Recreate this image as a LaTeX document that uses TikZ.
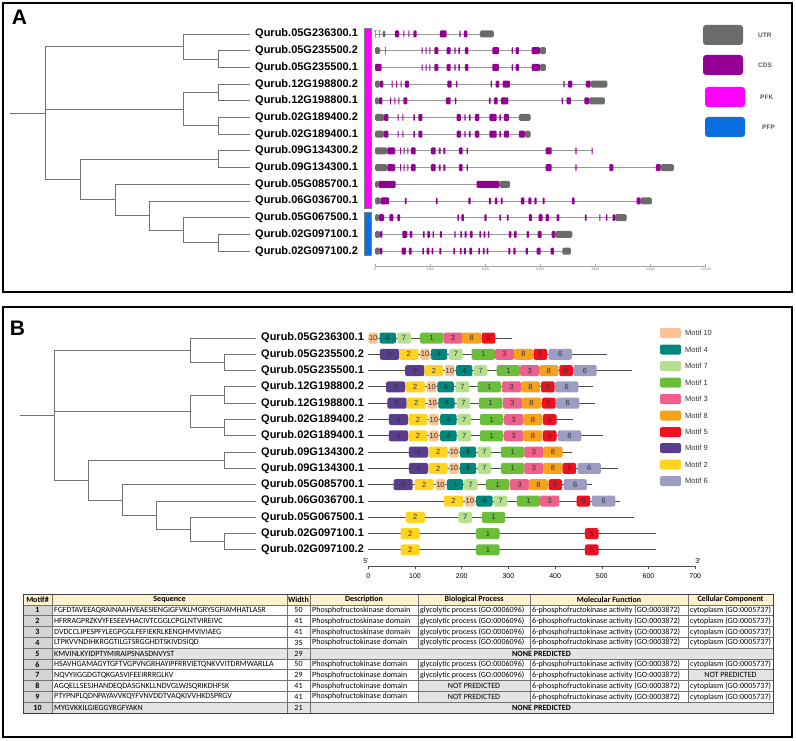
\documentclass[tikz,border=0pt]{standalone}
\usepackage{fontspec}
\setmainfont{Liberation Sans}
\newfontfamily\tabfont{Carlito}
\usepackage{tikz}
\usepackage{xcolor}

\definecolor{utrgrey}{HTML}{6B6B6B}
\definecolor{cdspurple}{HTML}{930093}
\definecolor{pfkpink}{HTML}{FF00FF}
\definecolor{pfpblue}{HTML}{0A6FE0}
\definecolor{mot1}{HTML}{6BBE3A}
\definecolor{mot2}{HTML}{FFD320}
\definecolor{mot3}{HTML}{F0608C}
\definecolor{mot4}{HTML}{00877C}
\definecolor{mot5}{HTML}{F01020}
\definecolor{mot6}{HTML}{9D9CC2}
\definecolor{mot7}{HTML}{B6DF8E}
\definecolor{mot8}{HTML}{F7A21B}
\definecolor{mot9}{HTML}{5A3E8E}
\definecolor{mot10}{HTML}{FAC393}
\definecolor{headyellow}{HTML}{FFF2CC}
\definecolor{numgrey}{HTML}{D4D4D4}
\definecolor{cellgrey}{HTML}{E4E4E4}

\tikzstyle{panel} = [draw = black, line width = 1.6pt]
\tikzstyle{panellabel} = [inner sep = 0pt, font = \fontsize{21}{21}\selectfont\bfseries]
\tikzstyle{leaf} = [anchor = west, inner xsep = 5pt, inner ysep = 0pt, font = \fontsize{11}{11}\selectfont\bfseries]
\tikzstyle{branch} = [draw = black!55, line width = 0.9pt]
\tikzstyle{intron} = [draw = black!40, line width = 0.8pt]
\tikzstyle{utr} = [fill = utrgrey, rounded corners = 1.5pt]
\tikzstyle{cds} = [fill = cdspurple, rounded corners = 1pt]
\tikzstyle{legbox} = [rounded corners = 3pt, minimum width = 40pt, minimum height = 20pt, inner sep = 0pt]
\tikzstyle{legtext} = [anchor = west, inner sep = 0pt, text = black!65, font = \fontsize{6.5}{6.5}\selectfont\bfseries]
\tikzstyle{protein} = [draw = black!70, line width = 0.9pt]
\tikzstyle{motifbox} = [rounded corners = 2pt]
\tikzstyle{motiflabel} = [inner sep = 0pt, text = black!80, font = \fontsize{7.5}{7.5}\selectfont]
\tikzstyle{legmotif} = [rounded corners = 2pt, minimum width = 21pt, minimum height = 10pt, inner sep = 0pt]
\tikzstyle{legmtext} = [anchor = west, inner sep = 0pt, text = black!80, font = \fontsize{7.5}{7.5}\selectfont]
\tikzstyle{axistext} = [inner sep = 0pt, font = \fontsize{7}{7}\selectfont]
\tikzstyle{tinytext} = [inner sep = 0pt, text = black!50, font = \fontsize{3.5}{3.5}\selectfont]
\tikzstyle{grid} = [draw = black!55, line width = 0.5pt]
\tikzstyle{tabtext} = [inner sep = 0pt, font = \tabfont\fontsize{8}{8}\selectfont]
\tikzstyle{tabbold} = [inner sep = 0pt, font = \tabfont\bfseries\fontsize{8}{8}\selectfont]

% #1 row y, #2 line start, #3 line end, #4 utr pieces, #5 cds pieces (units of 1/3 px from x = 370)
\newcommand{\genemodel}[5]{%
  \begin{scope}[shift = {(370, #1)}, x = 0.3333pt]
    \draw [intron] (#2, 0) -- (#3, 0);
    \foreach \a/\b in {#4} \fill [utr] (\a, -3.5) rectangle (\b, 3.5);
    \foreach \a/\b in {#5} \fill [cds] (\a, -3.5) rectangle (\b, 3.5);
  \end{scope}}

% #1 row tag, #2 row y, #3 protein length, #4 start/motif pairs
\newcommand{\motifrow}[4]{%
  \begin{scope}[shift = {(368.3, #2)}, x = 0.467pt]
    \draw [protein] (0, 0) -- (#3, 0);
    \foreach \s/\m in {#4} {
      \pgfmathsetmacro{\w}{{0,50,41,41,35,29,50,29,41,41,21}[\m]}
      \fill [motifbox, fill = mot\m] (\s, -5.5) rectangle ++(\w, 11);
      \node [motiflabel] (r#1m\m) at (\s + 0.5*\w, 0) {\m};
    }
  \end{scope}}

\begin{document}
\begin{tikzpicture}[x = 1pt, y = -1pt]
    \useasboundingbox (0, 0) rectangle (796, 741);

    % frames
    \draw [panel] (3, 3) rectangle (792, 292);
    \draw [panel] (3, 307) rectangle (792, 737);
    \node [panellabel] (labA) at (19.5, 17) {A};
    \node [panellabel] (labB) at (17.5, 328) {B};

    % ---------------- panel A ----------------
    \node (a1) at (250, 34) [leaf] {Qurub.05G236300.1};
    \node (a2) at (250, 50.7) [leaf] {Qurub.05G235500.2};
    \node (a3) at (250, 67.4) [leaf] {Qurub.05G235500.1};
    \node (a4) at (250, 84.1) [leaf] {Qurub.12G198800.2};
    \node (a5) at (250, 100.8) [leaf] {Qurub.12G198800.1};
    \node (a6) at (250, 117.5) [leaf] {Qurub.02G189400.2};
    \node (a7) at (250, 134.2) [leaf] {Qurub.02G189400.1};
    \node (a8) at (250, 150.9) [leaf] {Qurub.09G134300.2};
    \node (a9) at (250, 167.6) [leaf] {Qurub.09G134300.1};
    \node (a10) at (250, 184.3) [leaf] {Qurub.05G085700.1};
    \node (a11) at (250, 201) [leaf] {Qurub.06G036700.1};
    \node (a12) at (250, 217.7) [leaf] {Qurub.05G067500.1};
    \node (a13) at (250, 234.4) [leaf] {Qurub.02G097100.1};
    \node (a14) at (250, 251.1) [leaf] {Qurub.02G097100.2};

    \coordinate (ta0) at (10, 113);
    \coordinate (ta) at (45, 113);
    \coordinate (ta1) at (183, 46.5);
    \coordinate (ta11) at (218, 59.05);
    \coordinate (ta2) at (183, 109.15);
    \coordinate (ta21) at (218, 92.45);
    \coordinate (ta22) at (218, 125.85);
    \coordinate (ta3) at (80, 179.6);
    \coordinate (ta31) at (218, 159.25);
    \coordinate (ta32) at (115, 199.95);
    \coordinate (ta33) at (149, 215.6);
    \coordinate (ta34) at (183, 230.2);
    \coordinate (ta35) at (218, 242.75);

    \draw [branch] (ta0) -- (ta);
    \draw [branch] (ta) |- (ta1);
    \draw [branch] (ta) |- (ta2);
    \draw [branch] (ta) |- (ta3);
    \draw [branch] (ta1) |- (a1.west);
    \draw [branch] (ta1) |- (ta11);
    \draw [branch] (ta11) |- (a2.west);
    \draw [branch] (ta11) |- (a3.west);
    \draw [branch] (ta2) |- (ta21);
    \draw [branch] (ta2) |- (ta22);
    \draw [branch] (ta21) |- (a4.west);
    \draw [branch] (ta21) |- (a5.west);
    \draw [branch] (ta22) |- (a6.west);
    \draw [branch] (ta22) |- (a7.west);
    \draw [branch] (ta3) |- (ta31);
    \draw [branch] (ta3) |- (ta32);
    \draw [branch] (ta31) |- (a8.west);
    \draw [branch] (ta31) |- (a9.west);
    \draw [branch] (ta32) |- (a10.west);
    \draw [branch] (ta32) |- (ta33);
    \draw [branch] (ta33) |- (a11.west);
    \draw [branch] (ta33) |- (ta34);
    \draw [branch] (ta34) |- (a12.west);
    \draw [branch] (ta34) |- (ta35);
    \draw [branch] (ta35) |- (a13.west);
    \draw [branch] (ta35) |- (a14.west);

    % family bars
    \draw [fill = pfkpink, draw = black!50] (364, 28) rectangle (371, 208);
    \draw [fill = pfpblue, draw = black!50] (364, 212) rectangle (371, 255);

    % gene structures
    \genemodel{34}{15}{372}{15/17, 27/29, 38/46, 330/372}{75/87, 100/103, 115/118, 130/140, 210/230, 268/272, 282/292}
    \genemodel{50.7}{15}{528}{15/30, 510/528}{45/47, 155/158, 167/170, 178/181, 193/205, 230/242, 253/257, 265/270, 285/295, 367/387, 425/429, 437/447, 485/510}
    \genemodel{67.4}{15}{528}{510/528}{15/35, 155/158, 167/170, 178/181, 193/205, 230/242, 253/257, 265/270, 285/295, 367/387, 425/429, 437/447, 485/510}
    \genemodel{84.1}{15}{712}{15/30, 662/712}{30/40, 65/68, 78/81, 92/95, 105/117, 232/245, 258/262, 362/366, 377/388, 398/420, 580/584, 594/607, 648/662}
    \genemodel{100.8}{15}{705}{15/27, 657/705}{27/37, 60/63, 73/76, 85/88, 100/112, 228/242, 255/259, 357/362, 372/383, 393/415, 575/579, 590/603, 643/657}
    \genemodel{117.5}{15}{482}{15/42, 447/482}{42/55, 83/86, 97/100, 130/135, 145/157, 260/273, 283/287, 297/302, 315/328, 358/380, 388/393, 402/417}
    \genemodel{134.2}{15}{482}{15/42, 465/482}{42/55, 83/86, 97/100, 130/135, 145/157, 260/273, 283/287, 297/302, 315/328, 358/380, 388/393, 402/417, 447/465}
    \genemodel{150.9}{15}{668}{15/52}{52/75, 90/93, 101/104, 112/115, 123/137, 183/197, 207/212, 220/226, 267/278, 290/294, 527/545, 616/620, 665/668}
    \genemodel{167.6}{15}{912}{15/52, 872/912}{52/75, 90/93, 101/104, 112/115, 123/137, 183/197, 207/212, 220/226, 267/278, 290/294, 527/545, 616/620, 718/730, 858/872}
    \genemodel{184.3}{15}{420}{15/25, 388/420}{25/77, 320/388}
    \genemodel{201}{15}{846}{15/32, 812/846}{32/57, 105/110, 198/203, 295/302, 357/363, 375/382, 393/398, 453/463, 475/484, 493/500, 518/524, 606/614, 800/812}
    \genemodel{217.7}{15}{770}{15/27, 735/770}{27/42, 58/70, 82/90, 262/267, 274/282, 343/350, 388/393, 411/416, 477/486, 506/518, 527/537, 560/568, 645/650, 688/691, 708/712, 728/735}
    \genemodel{234.4}{15}{607}{15/30, 556/607}{30/37, 97/112, 119/127, 159/164, 172/180, 188/192, 210/216, 253/257, 271/276, 284/290, 300/308, 328/333, 341/346, 354/358, 417/424, 432/440, 470/477, 503/515, 545/556}
    \genemodel{251.1}{15}{603}{15/30, 577/603}{30/37, 95/108, 117/125, 157/162, 170/178, 185/190, 208/214, 250/255, 270/275, 282/288, 298/306, 325/330, 339/344, 350/355, 415/421, 430/437, 467/474, 500/512, 542/552}

    % bp scale
    \draw [draw = black!35, line width = 0.6pt] (375, 266) -- (705.6, 266);
    \foreach \t/\lab in {0/0, 1/2000, 2/4000, 3/6000, 4/8000, 5/10000, 6/12000} {
        \draw [draw = black!35, line width = 0.4pt] ({375 + 55.1*\t}, 263.5) -- ({375 + 55.1*\t}, 266);
        \node [tinytext] (bp\t) at ({375 + 55.1*\t}, 269.5) {\lab};
    }

    % legend A
    \node [legbox, fill = utrgrey] (kutr) at (723, 35) {};
    \node [legtext] (tutr) at (758, 35) {UTR};
    \node [legbox, fill = cdspurple] (kcds) at (723, 65) {};
    \node [legtext] (tcds) at (758, 65) {CDS};
    \node [legbox, fill = pfkpink] (kpfk) at (725, 97) {};
    \node [legtext] (tpfk) at (760, 97) {PFK};
    \node [legbox, fill = pfpblue] (kpfp) at (725, 127) {};
    \node [legtext] (tpfp) at (762, 127) {PFP};

    % ---------------- panel B ----------------
    \node (b1) at (256, 338) [leaf] {Qurub.05G236300.1};
    \node (b2) at (256, 354.3) [leaf] {Qurub.05G235500.2};
    \node (b3) at (256, 370.6) [leaf] {Qurub.05G235500.1};
    \node (b4) at (256, 386.9) [leaf] {Qurub.12G198800.2};
    \node (b5) at (256, 403.2) [leaf] {Qurub.12G198800.1};
    \node (b6) at (256, 419.5) [leaf] {Qurub.02G189400.2};
    \node (b7) at (256, 435.8) [leaf] {Qurub.02G189400.1};
    \node (b8) at (256, 452.1) [leaf] {Qurub.09G134300.2};
    \node (b9) at (256, 468.4) [leaf] {Qurub.09G134300.1};
    \node (b10) at (256, 484.7) [leaf] {Qurub.05G085700.1};
    \node (b11) at (256, 501) [leaf] {Qurub.06G036700.1};
    \node (b12) at (256, 517.3) [leaf] {Qurub.05G067500.1};
    \node (b13) at (256, 533.6) [leaf] {Qurub.02G097100.1};
    \node (b14) at (256, 549.9) [leaf] {Qurub.02G097100.2};

    \coordinate (tb0) at (20, 415.15);
    \coordinate (tb) at (54, 415.15);
    \coordinate (tb1) at (190, 350.2);
    \coordinate (tb11) at (224, 362.45);
    \coordinate (tb2) at (190, 411.35);
    \coordinate (tb21) at (224, 395.05);
    \coordinate (tb22) at (224, 427.65);
    \coordinate (tb3) at (88, 480.1);
    \coordinate (tb31) at (224, 460.25);
    \coordinate (tb32) at (122, 499.95);
    \coordinate (tb33) at (156, 515.25);
    \coordinate (tb34) at (190, 529.5);
    \coordinate (tb35) at (224, 541.75);

    \draw [branch] (tb0) -- (tb);
    \draw [branch] (tb) |- (tb1);
    \draw [branch] (tb) |- (tb2);
    \draw [branch] (tb) |- (tb3);
    \draw [branch] (tb1) |- (b1.west);
    \draw [branch] (tb1) |- (tb11);
    \draw [branch] (tb11) |- (b2.west);
    \draw [branch] (tb11) |- (b3.west);
    \draw [branch] (tb2) |- (tb21);
    \draw [branch] (tb2) |- (tb22);
    \draw [branch] (tb21) |- (b4.west);
    \draw [branch] (tb21) |- (b5.west);
    \draw [branch] (tb22) |- (b6.west);
    \draw [branch] (tb22) |- (b7.west);
    \draw [branch] (tb3) |- (tb31);
    \draw [branch] (tb3) |- (tb32);
    \draw [branch] (tb31) |- (b8.west);
    \draw [branch] (tb31) |- (b9.west);
    \draw [branch] (tb32) |- (b10.west);
    \draw [branch] (tb32) |- (tb33);
    \draw [branch] (tb33) |- (b11.west);
    \draw [branch] (tb33) |- (tb34);
    \draw [branch] (tb34) |- (b12.west);
    \draw [branch] (tb34) |- (tb35);
    \draw [branch] (tb35) |- (b13.west);
    \draw [branch] (tb35) |- (b14.west);

    % motif maps
    \motifrow{1}{338}{307}{0/10, 24/4, 62/7, 111/1, 161/3, 201/8, 243/5}
    \motifrow{2}{354.3}{511}{25/9, 66/2, 111/10, 134/4, 173/7, 221/1, 271/3, 312/8, 354/5, 386/6}
    \motifrow{3}{370.6}{564}{79/9, 120/2, 164/10, 188/4, 226/7, 275/1, 325/3, 366/8, 409/5, 439/6}
    \motifrow{4}{386.9}{482}{38/9, 80/2, 125/10, 148/4, 187/7, 234/1, 286/3, 327/8, 370/5, 400/6}
    \motifrow{5}{403.2}{486}{41/9, 82/2, 127/10, 150/4, 189/7, 237/1, 288/3, 329/8, 372/5, 402/6}
    \motifrow{6}{419.5}{439}{44/9, 86/2, 130/10, 154/4, 191/7, 239/1, 291/3, 332/8, 374/5}
    \motifrow{7}{435.8}{502}{44/9, 86/2, 130/10, 154/4, 191/7, 239/1, 291/3, 332/8, 374/5, 406/6}
    \motifrow{8}{452.1}{437}{87/9, 129/2, 173/10, 196/4, 234/7, 284/1, 334/3, 375/8}
    \motifrow{9}{468.4}{534}{87/9, 129/2, 173/10, 196/4, 234/7, 284/1, 334/3, 375/8, 416/5, 448/6}
    \motifrow{10}{484.7}{480}{54/9, 99/2, 144/10, 168/4, 205/7, 252/1, 303/3, 344/8, 386/5, 418/6}
    \motifrow{11}{501}{538}{162/2, 207/10, 231/4, 269/7, 318/1, 368/3, 446/5, 479/6}
    \motifrow{12}{517.3}{570}{80/2, 193/7, 243/1}
    \motifrow{13}{533.6}{616}{69/2, 231/1, 464/5}
    \motifrow{14}{549.9}{616}{69/2, 231/1, 464/5}

    % aa scale
    \draw [draw = black!70, line width = 0.7pt] (368.3, 566) -- (695.2, 566);
    \foreach \t/\lab in {0/0, 1/100, 2/200, 3/300, 4/400, 5/500, 6/600, 7/700} {
        \draw [draw = black!70, line width = 0.5pt] ({368.3 + 46.7*\t}, 566) -- ({368.3 + 46.7*\t}, 568.5);
        \node [axistext] (aa\t) at ({368.3 + 46.7*\t}, 576) {\lab};
    }
    \node [axistext] (five) at (366, 561) {5'};
    \node [axistext] (three) at (698, 561) {3'};

    % legend B
    \foreach \m/\yy in {10/333, 4/349.5, 7/366, 1/382.5, 3/399, 8/415.5, 5/432, 9/448, 2/464.5, 6/481} {
        \node [legmotif, fill = mot\m] (km\m) at (670.5, \yy) {};
        \node [legmtext] (tm\m) at (685, \yy) {Motif \m};
    }

    % ---------------- table ----------------
    \fill [headyellow] (23, 594) rectangle (773, 604.82);
    \fill [numgrey] (23, 604.82) rectangle (52, 713.02);
    \fill [cellgrey] (52, 648.1) rectangle (773, 658.92);
    \fill [cellgrey] (52, 702.2) rectangle (773, 713.02);
    \fill [cellgrey] (688, 669.74) rectangle (773, 680.56);
    \fill [cellgrey] (418, 680.56) rectangle (530, 702.2);

    \foreach \rr in {0, ..., 11}
        \draw [grid] (23, {594 + 10.82*\rr}) -- (773, {594 + 10.82*\rr});
    \foreach \cx in {23, 52, 287, 310, 773}
        \draw [grid] (\cx, 594) -- (\cx, 713.02);
    \foreach \cx in {418, 530, 688} {
        \draw [grid] (\cx, 594) -- (\cx, 648.1);
        \draw [grid] (\cx, 658.92) -- (\cx, 702.2);
    }
    \draw [draw = black!75, line width = 0.8pt] (23, 594) rectangle (773, 713.02);

    \node [tabbold] (hnum) at (37.5, 599.41) {Motif\#};
    \node [tabbold] (hseq) at (169.5, 599.41) {Sequence};
    \node [tabbold] (hwid) at (298.5, 599.41) {Width};
    \node [tabbold] (hdes) at (364, 599.41) {Description};
    \node [tabbold] (hbp) at (474, 599.41) {Biological Process};
    \node [tabbold] (hmf) at (609, 599.41) {Molecular Function};
    \node [tabbold] (hcc) at (730.5, 599.41) {Cellular Component};

    \foreach \rr/\sq/\len in {1/FGFDTAVEEAQRAINAAHVEAESIENGIGFVKLMGRYSGFIAMHATLASR/50,
                              2/HFRRAGPRZKVYFESEEVHACIVTCGGLCPGLNTVIREIVC/41,
                              3/DVDCCLIPESPFYLEGPGGLFEFIEKRLKENGHMVIVIAEG/41,
                              4/LTPKVVNDIHKRGGTILGTSRGGHDTSKIVDSIQD/35,
                              5/KMVINLKYIDPTYMIRAIPSNASDNVYST/29,
                              6/HSAVHGAMAGYTGFTVGPVNGRHAYIPFRRVIETQNKVVITDRMWARLLA/50,
                              7/NQVYIIGGDGTQKGASVIFEEIRRRGLKV/29,
                              8/AGQELLSESJHANDEQDASGNKLLNDVGLWJSQRIKDHFSK/41,
                              9/PTYPNPLQDNPAYAVVKQYFVNVDDTVAQKIVVHKDSPRGV/41,
                              10/MYGVKKILGIEGGYRGFYAKN/21} {
        \node [tabbold] (num\rr) at (37.5, {594 + 10.82*(\rr + 0.5)}) {\rr};
        \node [tabtext, anchor = west] (seq\rr) at (54, {594 + 10.82*(\rr + 0.5)}) {\sq};
        \node [tabtext] (wid\rr) at (298.5, {594 + 10.82*(\rr + 0.5)}) {\len};
    }
    \foreach \rr/\ds in {1/Phosphofructoskinase domain, 2/Phosphofructoskinase domain,
                         3/Phosphofructoskinase domain, 4/Phosphofructokinase domain,
                         6/Phosphofructokinase domain, 7/Phosphofructokinase domain,
                         8/Phosphofructokinase domain, 9/Phosphofructokinase domain}
        \node [tabtext, anchor = west] (des\rr) at (312, {594 + 10.82*(\rr + 0.5)}) {\ds};
    \foreach \rr in {1, 2, 3, 4, 6, 7}
        \node [tabtext, anchor = west] (bp\rr) at (420, {594 + 10.82*(\rr + 0.5)}) {glycolytic process (GO:0006096)};
    \foreach \rr in {8, 9}
        \node [tabtext] (bp\rr) at (474, {594 + 10.82*(\rr + 0.5)}) {NOT PREDICTED};
    \foreach \rr in {1, 2, 3, 4, 6, 7, 8, 9}
        \node [tabtext, anchor = west] (mf\rr) at (532, {594 + 10.82*(\rr + 0.5)}) {6-phosphofructokinase activity (GO:0003872)};
    \foreach \rr in {1, 2, 3, 4, 6, 8, 9}
        \node [tabtext, anchor = west] (cc\rr) at (690, {594 + 10.82*(\rr + 0.5)}) {cytoplasm (GO:0005737)};
    \node [tabtext] (cc7) at (730.5, 675.15) {NOT PREDICTED};
    \node [tabbold] (none5) at (541.5, 653.51) {NONE PREDICTED};
    \node [tabbold] (none10) at (541.5, 707.61) {NONE PREDICTED};
\end{tikzpicture}
\end{document}
